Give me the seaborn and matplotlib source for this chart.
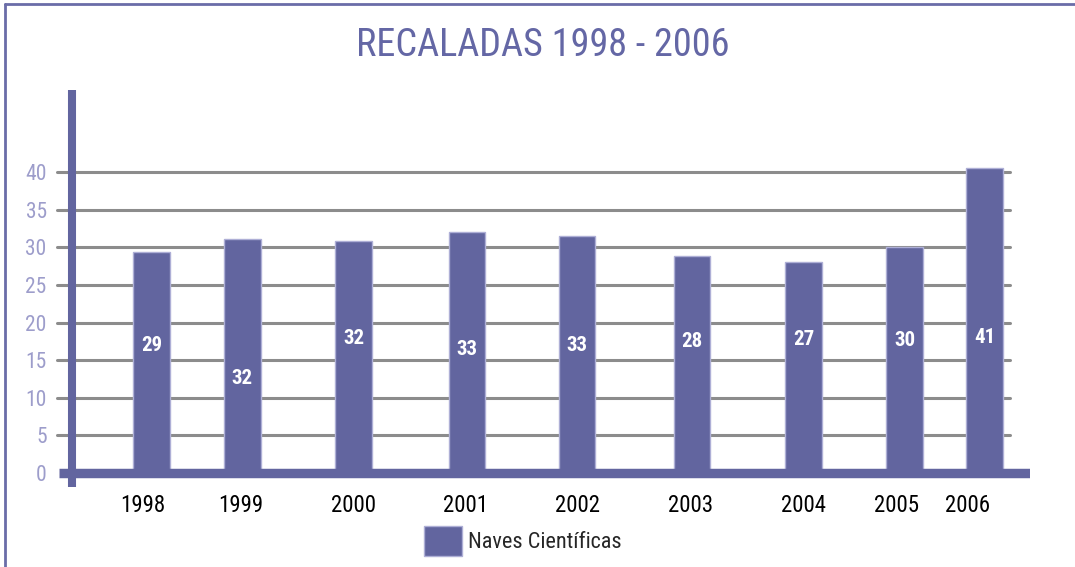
"""
Recaladas 1998 - 2006: bar chart of scientific vessel port calls.
"""
import matplotlib
matplotlib.use("Agg")
import matplotlib.pyplot as plt
import seaborn as sns
import pandas as pd
from matplotlib.lines import Line2D

# data
years = ["1998", "1999", "2000", "2001", "2002", "2003", "2004", "2005", "2006"]
bar_heights = [29.4, 31.1, 30.8, 32.1, 31.5, 28.8, 28.0, 30.0, 40.5]
value_labels = ["29", "32", "32", "33", "33", "28", "27", "30", "41"]
label_heights = [16.9, 12.5, 17.9, 16.4, 17.0, 17.5, 17.7, 17.6, 18.0]
series_name = "Naves Científicas"
y_ticks = [0, 5, 10, 15, 20, 25, 30, 35, 40]

# layout: uneven slot positions of the original drawing
bar_pos = [0.965, 1.87, 2.985, 4.12, 5.22, 6.37, 7.485, 8.495, 9.295]
tick_pos = [0.88, 1.86, 2.98, 4.11, 5.22, 6.36, 7.48, 8.415, 9.125]

PURPLE = "#62659f"
TITLE = "#6467a5"
TICK = "#9d9dcb"
GRID = "#8c8c8c"

sns.set_theme(style="white")
plt.rcParams["font.family"] = ["Liberation Sans Narrow", "Roboto Condensed",
                               "Archivo Narrow", "DejaVu Sans"]

W, H = 1075, 567
fig = plt.figure(figsize=(W / 100, H / 100), dpi=100)
# axes spans pixels x 55..1030, y 90..487
ax = fig.add_axes([55 / W, 1 - 487 / H, 975 / W, 397 / H])
px_per_unit = 7.52
ax.set_xlim(0, 9.75)
ax.set_ylim(-14 / px_per_unit, (473 - 90) / px_per_unit)

df = pd.DataFrame({"pos": bar_pos, "value": bar_heights})
min_gap = min(b - a for a, b in zip(bar_pos, bar_pos[1:]))
sns.barplot(data=df, x="pos", y="value", native_scale=True, errorbar=None,
            width=0.37 / min_gap, color=PURPLE, saturation=1,
            edgecolor="#aeafd6", linewidth=1, label=series_name, zorder=3, ax=ax)

for y in y_ticks[1:]:
    ax.axhline(y, xmin=0.002, xmax=0.979, color=GRID, lw=2.2, zorder=1)

# thick axis lines
ax.axhline(0, xmin=4 / 975, xmax=1, color=PURPLE, lw=6.8, zorder=4, solid_capstyle="butt")
ax.axvline((72 - 55) / 100, color=PURPLE, lw=5.8, zorder=4, solid_capstyle="butt")

for x, h, txt in zip(bar_pos, label_heights, value_labels):
    ax.text(x, h, txt, ha="center", va="center", color="white",
            fontsize=15, fontweight="bold", zorder=5)

for s in ax.spines.values():
    s.set_visible(False)
ax.set_xticks(tick_pos, labels=years)
ax.set_yticks(y_ticks, labels=[str(v) for v in y_ticks])
ax.tick_params(axis="x", length=0, pad=5, labelsize=16.5, labelcolor="black")
ax.tick_params(axis="y", length=0, pad=6, labelsize=15.5, labelcolor=TICK)
ax.set_xlabel("")
ax.set_ylabel("")

fig.text(543 / W, 1 - 46 / H, "RECALADAS 1998 - 2006", ha="center", va="center",
         color=TITLE, fontsize=27.5)

ax.legend(loc="center left", bbox_to_anchor=(424 / W, 1 - 541 / H),
          bbox_transform=fig.transFigure, frameon=False, fontsize=16,
          handlelength=1.7, handleheight=1.7, handletextpad=0.3, borderpad=0,
          borderaxespad=0)

# frame lines along top and left edges
fig.add_artist(Line2D([5 / W, 1], [1 - 4 / H, 1 - 4 / H], color="#6a6da8", lw=2))
fig.add_artist(Line2D([5 / W, 5 / W], [0, 1 - 4 / H], color="#6a6da8", lw=2))

fig.savefig("out.png", dpi=100)
plt.close(fig)
